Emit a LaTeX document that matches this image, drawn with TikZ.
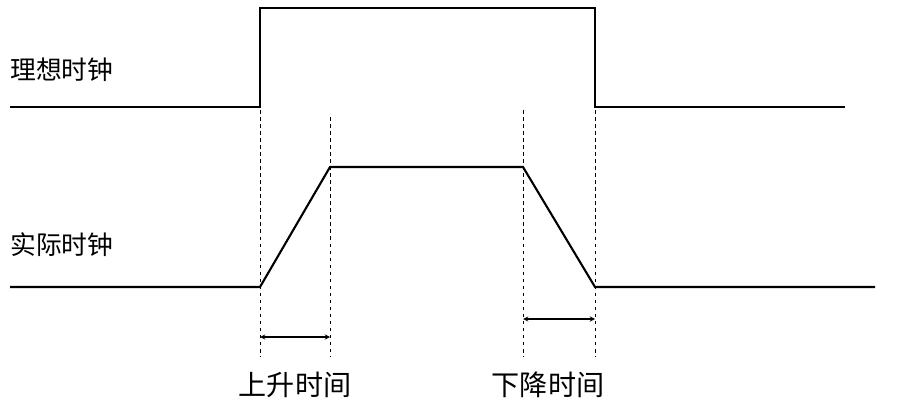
\documentclass[tikz,border=0pt]{standalone}
\usepackage{fontspec}
\newfontfamily\cjk{Noto Sans CJK SC}
\usetikzlibrary{positioning}
\tikzset{
    wave/.style = {line width=1.8pt, line join=miter},
    guide/.style = {dashed, line width=0.6pt},
    span/.style = {<->, >=stealth, line width=1pt},
    label/.style = {font=\cjk\fontsize{22}{26}\selectfont, inner sep=0pt},
    tag/.style = {font=\cjk\fontsize{24}{28}\selectfont, inner sep=0pt}
}
\begin{document}
\begin{tikzpicture}[x=0.03cm,y=-0.03cm]
   \useasboundingbox (0,0) rectangle (907,405);
   % ideal clock
   \coordinate (I0) at (10,107);
   \coordinate (I1) at (260,107);
   \coordinate (I2) at (260,8);
   \coordinate (I3) at (595,8);
   \coordinate (I4) at (595,107);
   \coordinate (I5) at (845,107);
   % real clock
   \coordinate (R0) at (10,287);
   \coordinate (R1) at (260,287);
   \coordinate (R2) at (330,167);
   \coordinate (R3) at (523,167);
   \coordinate (R4) at (595,287);
   \coordinate (R5) at (875,287);
   \draw[wave] (I0) -- (I1) -- (I2) -- (I3) -- (I4) -- (I5);
   \draw[wave] (R0) -- (R1) -- (R2) -- (R3) -- (R4) -- (R5);
   % guides
   \coordinate (G1a) at (260,110);  \coordinate (G1b) at (260,357);
   \coordinate (G2a) at (330,117);  \coordinate (G2b) at (330,357);
   \coordinate (G3a) at (523,110);  \coordinate (G3b) at (523,357);
   \coordinate (G4a) at (595,110);  \coordinate (G4b) at (595,357);
   \draw[guide] (G1a) -- (G1b);
   \draw[guide] (G2a) -- (G2b);
   \draw[guide] (G3a) -- (G3b);
   \draw[guide] (G4a) -- (G4b);
   % spans
   \coordinate (S1a) at (260,337);  \coordinate (S1b) at (330,337);
   \coordinate (S2a) at (523,319);  \coordinate (S2b) at (595,319);
   \draw[span] (S1a) -- (S1b);
   \draw[span] (S2a) -- (S2b);
   % labels
   \node[label, anchor=west] (Ideal) at (10,70) {理想时钟};
   \node[label, anchor=west] (Real) at (10,245) {实际时钟};
   \node[tag] (Rise) at (295,385) {上升时间};
   \node[tag] (Fall) at (548,385) {下降时间};
\end{tikzpicture}
\end{document}
